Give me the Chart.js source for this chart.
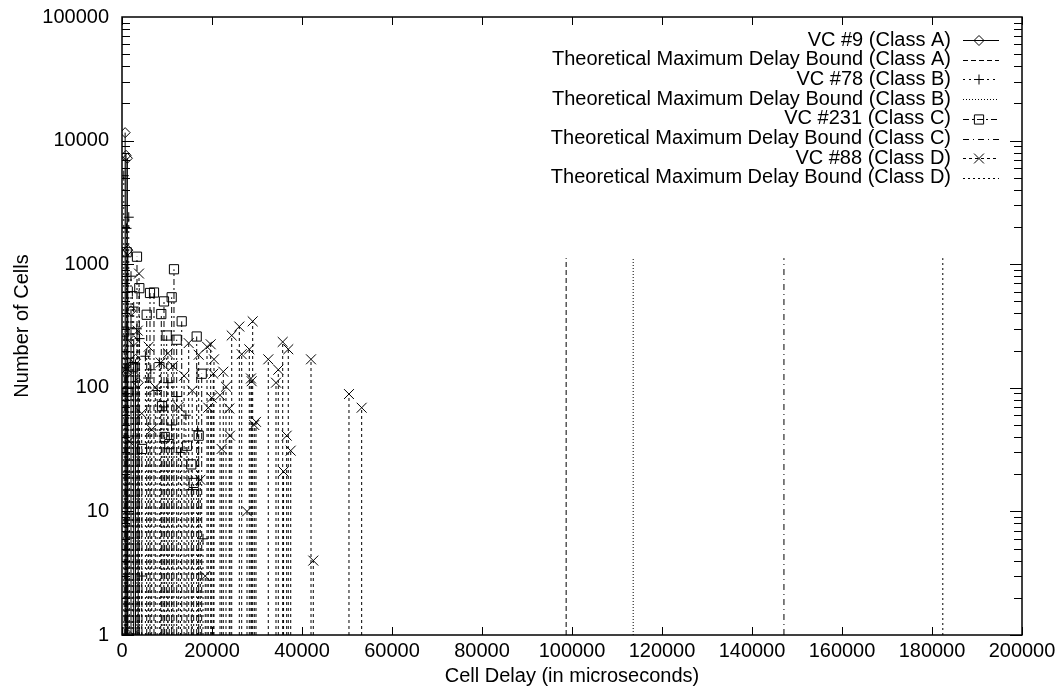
<!DOCTYPE html>
<html>
<head>
<meta charset="utf-8">
<title>Cell Delay</title>
<script src="https://cdn.jsdelivr.net/npm/chart.js@4.4.1/dist/chart.umd.min.js"></script>
<style>
  html, body { margin: 0; padding: 0; background: #fff; }
  #wrap { width: 1062px; height: 688px; }
</style>
</head>
<body>
<div id="wrap"><canvas id="delayChart" width="1062" height="688"></canvas></div>
<script>
// === DATA (delay in microseconds, number of cells) ===
const vc9Delay = [700, 900, 1200, 1300, 2000, 2600, 1100, 3000, 3600];
const vc9Cells = [11600, 7600, 7200, 1300, 420, 240, 131, 170, 110];

const vc78Delay = [400, 1000, 1500, 2000, 2600, 3300, 4400, 5200, 6400, 7800, 9300, 11000, 13000, 15500, 18000,
                   2300, 3900, 5800, 8300, 10200, 12200, 14200, 16800];
const vc78Cells = [5200, 1950, 2400, 800, 450, 300, 3, 180, 140, 95, 70, 50, 30, 15, 6,
                   600, 250, 120, 160, 110, 85, 60, 45];

const vc231Delay = [500, 800, 1040, 1250, 2510, 3330, 3850, 4440, 5490, 6220, 7110, 8730, 8890, 9330, 9490,
                    9930, 10510, 11040, 11550, 12150, 13270, 14440, 15400, 15930, 16600, 17040, 17710];
const vc231Cells = [285, 158, 1250, 93, 147, 1150, 640, 32, 390, 585, 590, 395, 71, 500, 40,
                    265, 35, 540, 910, 245, 345, 34, 24, 17, 260, 41, 130];

const vc88Delay = [730, 1620, 2550, 3500, 3780, 4380, 5930, 6600, 7400, 8600, 12600, 14820, 17040, 17400,
                   18500, 18890, 19180, 19710, 19930, 20290, 20440, 21780, 22150, 22510, 23110, 23840,
                   24000, 24380, 26070, 26600, 27780, 28290, 28660, 28820, 29040, 29400, 29780, 32510,
                   34220, 34730, 35710, 35900, 36600, 36950, 37490, 42000, 42510, 50440, 53260,
                   10200, 11300, 13800, 15600];
const vc88Cells = [140, 37, 1, 290, 840, 62, 215, 46, 101, 160, 70, 230, 185, 18,
                   3, 215, 69, 225, 83, 130, 170, 87, 32, 135, 102, 68,
                   41, 265, 313, 187, 10, 205, 119, 113, 345, 50, 53, 170,
                   110, 140, 235, 21, 41, 205, 31, 170, 4, 89, 69,
                   190, 150, 125, 95];

// theoretical maximum delay bounds, classes A..D
const boundDelay = [98700, 113600, 147100, 182400];
const boundCells = [1120, 1120, 1120, 1120];

const seriesNames = [
  'VC #9 (Class A)', 'Theoretical Maximum Delay Bound (Class A)',
  'VC #78 (Class B)', 'Theoretical Maximum Delay Bound (Class B)',
  'VC #231 (Class C)', 'Theoretical Maximum Delay Bound (Class C)',
  'VC #88 (Class D)', 'Theoretical Maximum Delay Bound (Class D)'
];
const xTicks = [0, 20000, 40000, 60000, 80000, 100000, 120000, 140000, 160000, 180000, 200000];
const yTicks = [1, 10, 100, 1000, 10000, 100000];

// === Impulses: each value is a stick from the bottom (1) up to the value ===
function impulses(xs, ys) {
  const pts = [];
  xs.forEach((x, i) => {
    pts.push({ x: x, y: 1 });
    pts.push({ x: x, y: ys[i], top: true });
    pts.push({ x: x, y: null });
  });
  return pts;
}

function series(label, xs, ys, dash, style, radius) {
  return {
    label: label,
    data: impulses(xs, ys),
    borderColor: '#000',
    borderWidth: 1,
    borderDash: dash,
    pointStyle: style || 'circle',
    markerRadius: style ? radius : 0,
    pointRadius: ctx => (ctx.raw && ctx.raw.top && style) ? radius : 0,
    pointHoverRadius: 0,
    pointBorderColor: '#000',
    pointBackgroundColor: 'rgba(0,0,0,0)',
    pointBorderWidth: 1,
    spanGaps: false,
    tension: 0,
    fill: false
  };
}

const datasets = [
  series(seriesNames[0], vc9Delay, vc9Cells, [], 'rectRot', 5),
  series(seriesNames[1], [boundDelay[0]], [boundCells[0]], [5, 3]),
  series(seriesNames[2], vc78Delay, vc78Cells, [2, 4], 'cross', 5),
  series(seriesNames[3], [boundDelay[1]], [boundCells[1]], [1, 2]),
  series(seriesNames[4], vc231Delay, vc231Cells, [6, 3, 2, 3], 'rect', 6.5),
  series(seriesNames[5], [boundDelay[2]], [boundCells[2]], [6, 4, 1, 4]),
  series(seriesNames[6], vc88Delay, vc88Cells, [3, 3], 'crossRot', 7),
  series(seriesNames[7], [boundDelay[3]], [boundCells[3]], [2, 3])
];

// === gnuplot style border, inward ticks and key ===
const gnuplotLook = {
  id: 'gnuplotLook',
  afterDatasetsDraw(chart) {
    const { ctx, chartArea: a, scales: { x, y } } = chart;
    ctx.save();
    ctx.strokeStyle = '#000';
    ctx.setLineDash([]);
    ctx.lineWidth = 1;

    // y ticks (major + minor, both sides)
    for (let d = 0; d < 5; d++) {
      for (let m = 1; m <= 9; m++) {
        const py = Math.round(y.getPixelForValue(m * Math.pow(10, d))) + 0.5;
        const len = m === 1 ? 12 : 8;
        ctx.beginPath();
        ctx.moveTo(a.left, py); ctx.lineTo(a.left + len, py);
        ctx.moveTo(a.right, py); ctx.lineTo(a.right - len, py);
        ctx.stroke();
      }
    }
    // x ticks (top and bottom)
    xTicks.forEach(v => {
      const px = Math.round(x.getPixelForValue(v)) + 0.5;
      ctx.beginPath();
      ctx.moveTo(px, a.bottom); ctx.lineTo(px, a.bottom - 8);
      ctx.moveTo(px, a.top); ctx.lineTo(px, a.top + 8);
      ctx.stroke();
    });

    // border
    ctx.lineWidth = 1.5;
    ctx.strokeRect(a.left, a.top, a.right - a.left, a.bottom - a.top);

    // key
    ctx.font = '20px "Liberation Sans", Arial, sans-serif';
    ctx.fillStyle = '#000';
    ctx.textAlign = 'right';
    ctx.textBaseline = 'middle';
    chart.data.datasets.forEach((ds, i) => {
      const ky = 40 + i * 19.7;
      ctx.fillText(ds.label, 951, ky);
      ctx.lineWidth = 1;
      ctx.setLineDash(ds.borderDash);
      ctx.beginPath();
      ctx.moveTo(963, Math.round(ky) + 0.5);
      ctx.lineTo(999, Math.round(ky) + 0.5);
      ctx.stroke();
      ctx.setLineDash([]);
      if (ds.markerRadius) {
        ctx.fillStyle = 'rgba(0,0,0,0)';
        Chart.helpers.drawPoint(ctx, { pointStyle: ds.pointStyle, radius: ds.markerRadius, borderWidth: 1, rotation: 0 }, 979, Math.round(ky) + 0.5);
        ctx.fillStyle = '#000';
      }
    });
    ctx.restore();
  }
};

Chart.defaults.font.family = '"Liberation Sans", Arial, sans-serif';
Chart.defaults.font.size = 20;
Chart.defaults.color = '#000';

const delayChart = new Chart(document.getElementById('delayChart').getContext('2d'), {
  type: 'line',
  data: { datasets: datasets },
  plugins: [gnuplotLook],
  options: {
    responsive: false,
    animation: false,
    devicePixelRatio: 1,
    layout: { padding: { top: 17, right: 40, left: 0, bottom: 0 } },
    plugins: { legend: { display: false }, tooltip: { enabled: false } },
    events: [],
    scales: {
      x: {
        type: 'linear',
        min: 0,
        max: 200000,
        grid: { display: false, drawTicks: false },
        border: { display: false },
        afterBuildTicks: s => { s.ticks = xTicks.map(v => ({ value: v })); },
        afterFit: s => { s.height = 53; s.paddingLeft = 0; s.paddingRight = 0; },
        ticks: { autoSkip: false, maxRotation: 0, padding: 4, callback: v => String(v) },
        title: { display: true, text: 'Cell Delay (in microseconds)', padding: { top: 0, bottom: 0 } }
      },
      y: {
        type: 'logarithmic',
        min: 1,
        max: 100000,
        grid: { display: false, drawTicks: false },
        border: { display: false },
        afterBuildTicks: s => { s.ticks = yTicks.map(v => ({ value: v })); },
        afterFit: s => { s.width = 122; s.paddingTop = 0; s.paddingBottom = 0; },
        ticks: { autoSkip: false, padding: 13, callback: v => String(v) },
        title: { display: true, text: 'Number of Cells', padding: { top: 10, bottom: 0 } }
      }
    }
  }
});
</script>
</body>
</html>
